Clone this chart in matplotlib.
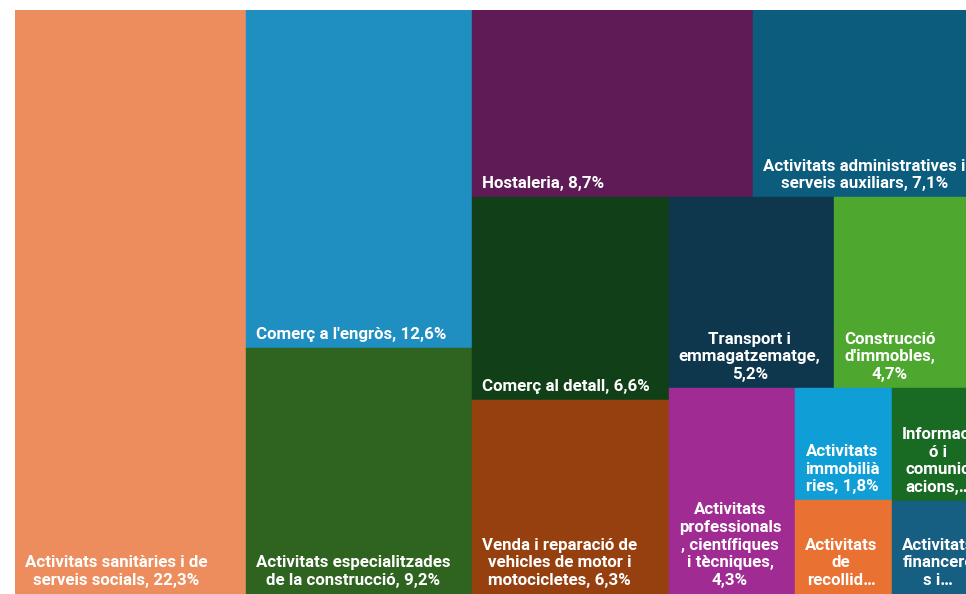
import matplotlib
matplotlib.use("Agg")
import matplotlib.pyplot as plt
from matplotlib.patches import Rectangle
from matplotlib import font_manager

# Sector shares (%) and labels
labels = [
    "Activitats sanitàries i de\nserveis socials, 22,3%",
    "Comerç a l'engròs, 12,6%",
    "Activitats especialitzades\nde la construcció, 9,2%",
    "Hostaleria, 8,7%",
    "Activitats administratives i\nserveis auxiliars, 7,1%",
    "Comerç al detall, 6,6%",
    "Venda i reparació de\nvehicles de motor i\nmotocicletes, 6,3%",
    "Transport i\nemmagatzematge,\n5,2%",
    "Construcció\nd'immobles,\n4,7%",
    "Activitats\nprofessionals\n, científiques\ni tècniques,\n4,3%",
    "Activitats\nimmobilià\nries, 1,8%",
    "Activitats\nde\nrecollid…",
    "Informaci\nó i\ncomunic\nacions,…",
    "Activitats\nfinancere\ns i…",
]
values = [22.3, 12.6, 9.2, 8.7, 7.1, 6.6, 6.3, 5.2, 4.7, 4.3, 1.8, 1.5, 1.7, 1.4]
colors = [
    "#ED8D5E", "#1F8EC1", "#2E6320", "#5F1B56", "#0C5C7D", "#113F17",
    "#964010", "#0E364D", "#4EA72E", "#A02B93", "#0F9ED5", "#E97132",
    "#196B24", "#165F82",
]

# Nested slicing of the treemap: 'h' splits left-to-right, 'v' top-to-bottom
tree = ("h", [
    0,
    ("v", [1, 2]),
    ("v", [
        ("h", [3, 4]),
        ("h", [
            ("v", [5, 6]),
            ("v", [
                ("h", [7, 8]),
                ("h", [9, ("v", [10, 11]), ("v", [12, 13])]),
            ]),
        ]),
    ]),
])


def node_sum(node):
    if isinstance(node, int):
        return values[node]
    return sum(node_sum(c) for c in node[1])


def layout(node, x, y, w, h, out):
    if isinstance(node, int):
        out[node] = (x, y, w, h)
        return
    kind, children = node
    total = node_sum(node)
    pos = 0.0
    for c in children:
        frac = node_sum(c) / total
        if kind == "h":
            layout(c, x + pos * w, y, frac * w, h, out)
        else:
            layout(c, x, y + pos * h, w, frac * h, out)
        pos += frac


W, H = 968, 584
rects = {}
layout(tree, 0, 0, W, H, rects)

available = {f.name for f in font_manager.fontManager.ttflist}
family = "Roboto" if "Roboto" in available else "DejaVu Sans"

fig = plt.figure(figsize=(9.66, 5.94), dpi=100)
ax = fig.add_axes([15 / 966, 0, W / 966, H / 594])
ax.set_xlim(0, W)
ax.set_ylim(H, 0)
ax.axis("off")

for i, (x, y, w, h) in rects.items():
    ax.add_patch(Rectangle((x, y), w, h, facecolor=colors[i],
                           edgecolor=colors[i], linewidth=0.3))
    ax.text(x + 10, y + h - 6, labels[i], ha="left", va="bottom",
            multialignment="center", color="white", fontweight="bold",
            fontsize=12.2, family=family, linespacing=1.22)

fig.savefig("out.png", dpi=100)
